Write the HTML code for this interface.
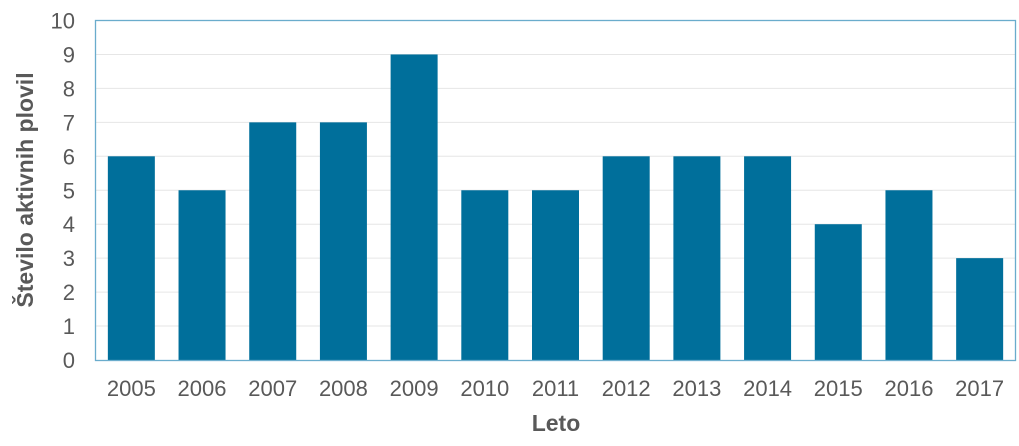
<!DOCTYPE html>
<html><head><meta charset="utf-8"><style>
body{margin:0;background:#fff;width:1019px;height:441px;overflow:hidden;font-family:"Liberation Sans",sans-serif}
</style></head><body>
<svg id="chart" width="1019" height="441" xmlns="http://www.w3.org/2000/svg">
<g id="grid"></g>
<g id="bars"></g>
<rect x="95.5" y="20.5" width="920" height="340" fill="none" stroke="#6aaccc" stroke-width="1.3"/>
<g id="yt" font-size="22" fill="#595959" text-anchor="end"></g>
<g id="xt" font-size="22" fill="#595959" text-anchor="middle"></g>
<text x="556" y="431" font-size="23" font-weight="bold" fill="#595959" text-anchor="middle">Leto</text>
<text transform="translate(33,190) rotate(-90)" font-size="23" font-weight="bold" fill="#595959" text-anchor="middle">Število aktivnih plovil</text>
</svg>
<script>
const categories=["2005","2006","2007","2008","2009","2010","2011","2012","2013","2014","2015","2016","2017"];
const values=[6,5,7,7,9,5,5,6,6,6,4,5,3];
const yTicks=[0,1,2,3,4,5,6,7,8,9,10];
const L=96,R=1015,T=20.5,B=360,ymax=10;
const ns="http://www.w3.org/2000/svg";
const y=v=>B-(v/ymax)*(B-T);
const bw=(R-L)/categories.length;
const x=i=>L+(i+0.5)*bw;
const grid=document.getElementById('grid'),bars=document.getElementById('bars'),yt=document.getElementById('yt'),xt=document.getElementById('xt');
yTicks.forEach(t=>{
 if(t>0&&t<ymax){const l=document.createElementNS(ns,'line');
 
 
 l.setAttribute('x1',L);l.setAttribute('x2',R);l.setAttribute('y1',y(t));l.setAttribute('y2',y(t));
 l.setAttribute('stroke','#e6e6e6');l.setAttribute('stroke-width','1');grid.appendChild(l);}
 const tx=document.createElementNS(ns,'text');
 
 
 tx.setAttribute('x',75);tx.setAttribute('y',y(t)+8);tx.textContent=t;yt.appendChild(tx);
});
categories.forEach((c,i)=>{
 const r=document.createElementNS(ns,'rect');
 
 
 r.setAttribute('x',x(i)-23.5);r.setAttribute('width',47);r.setAttribute('y',y(values[i]));r.setAttribute('height',B-y(values[i]));
 r.setAttribute('fill','#006f9b');bars.appendChild(r);
 const tx=document.createElementNS(ns,'text');
 
 
 tx.setAttribute('x',x(i));tx.setAttribute('y',396);tx.textContent=c;xt.appendChild(tx);
});
</script>
</body></html>
